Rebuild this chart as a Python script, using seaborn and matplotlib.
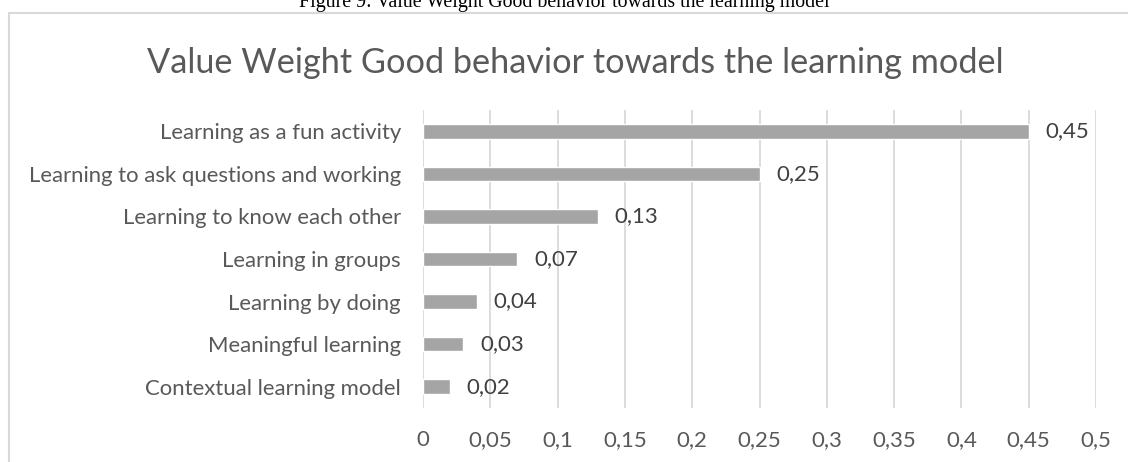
import matplotlib
matplotlib.use("Agg")
import matplotlib.pyplot as plt
from matplotlib.ticker import FuncFormatter, MultipleLocator
from matplotlib.lines import Line2D
import seaborn as sns
import pandas as pd

categories = [
    "Learning as a fun activity",
    "Learning to ask questions and working",
    "Learning to know each other",
    "Learning in groups",
    "Learning by doing",
    "Meaningful learning",
    "Contextual learning model",
]
weights = [0.45, 0.25, 0.13, 0.07, 0.04, 0.03, 0.02]

chart_title = "Value Weight Good behavior towards the learning model"
caption = "Figure 9: Value Weight Good behavior towards the learning model"

TEXT = "#595959"
BAR = "#A5A5A5"
GRID = "#D9D9D9"


def comma(v, _pos=None):
    return f"{v:g}".replace(".", ",")


sns.set_theme(style="white")
plt.rcParams["font.family"] = ["Lato", "DejaVu Sans"]

df = pd.DataFrame({"category": categories, "weight": weights})

fig = plt.figure(figsize=(11.28, 4.62), dpi=100)
ax = fig.add_axes([423 / 1128, 1 - 408 / 462, 673 / 1128, 298 / 462])

sns.barplot(data=df, x="weight", y="category", order=categories,
            color=BAR, saturation=1, width=0.34, ax=ax, zorder=3)

ax.set_xlim(0, 0.5)
ax.xaxis.set_major_locator(MultipleLocator(0.05))
ax.xaxis.set_major_formatter(FuncFormatter(comma))
ax.grid(axis="x", color=GRID, linewidth=1.3, zorder=0)
ax.grid(axis="y", visible=False)
for s in ax.spines.values():
    s.set_visible(False)
ax.set_xlabel("")
ax.set_ylabel("")
ax.tick_params(axis="x", length=0, pad=16, labelsize=16, labelcolor=TEXT)
ax.tick_params(axis="y", length=0, pad=16, labelsize=15.9, labelcolor=TEXT)

ax.bar_label(ax.containers[0], labels=[comma(v) for v in weights],
             padding=12, fontsize=16, color="#404040")

# chart title
fig.text(575 / 1128, 1 - 63 / 462, chart_title, ha="center", va="center",
         fontsize=24.7, color=TEXT)

# document caption above the chart frame
fig.text(564 / 1128, 1 - 7.5 / 462, caption, ha="center", va="baseline",
         fontsize=14.3, color="black", family=["Liberation Serif", "DejaVu Serif"])

# chart frame
fig.add_artist(Line2D([8.5 / 1128, 1.0], [1 - 12.5 / 462] * 2,
                      transform=fig.transFigure, color=GRID, linewidth=1.5))
fig.add_artist(Line2D([8.5 / 1128] * 2, [0, 1 - 12.5 / 462],
                      transform=fig.transFigure, color=GRID, linewidth=1.5))

fig.savefig("out.png", dpi=100)
